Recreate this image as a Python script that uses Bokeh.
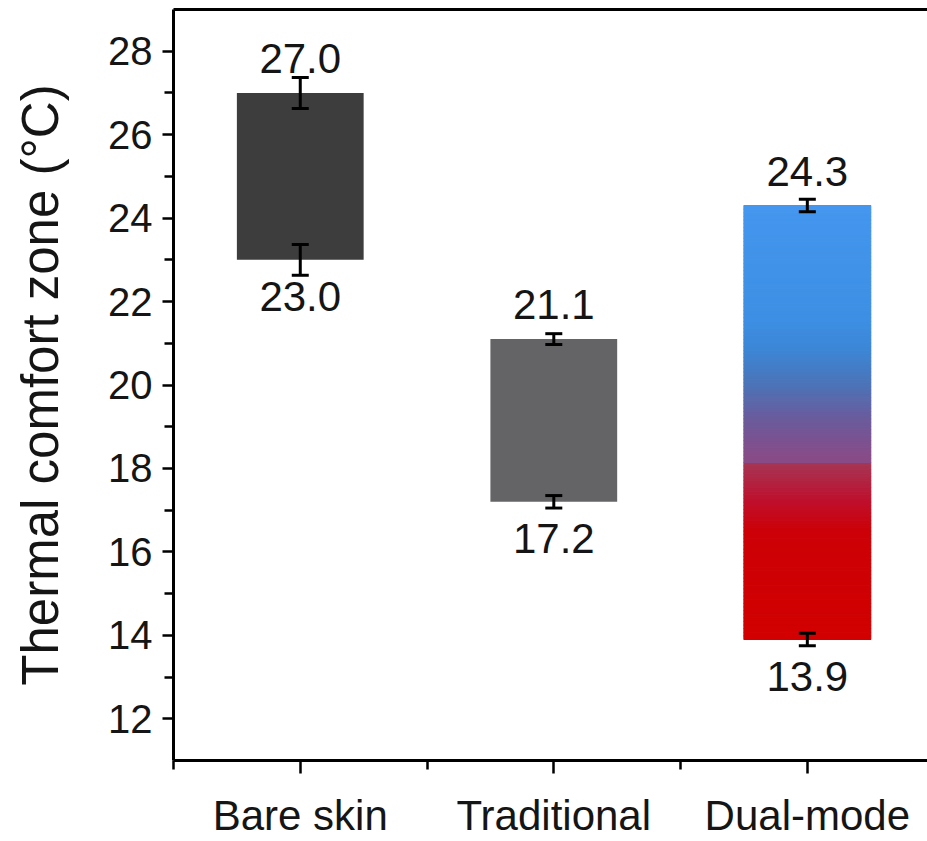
import numpy as np
from bokeh.plotting import figure
from bokeh.models import ColumnDataSource, Whisker, TeeHead, FixedTicker, LinearAxis, Range1d
from bokeh.embed import file_html
from bokeh.resources import INLINE
from bokeh.core.properties import value

# ---------------- data ----------------
categories = ["Bare skin", "Traditional", "Dual-mode"]
upper = [27.0, 21.1, 24.3]
lower = [23.0, 17.2, 13.9]
upper_err = [0.37, 0.13, 0.15]
lower_err = [0.37, 0.15, 0.15]
y_ticks = [12, 14, 16, 18, 20, 22, 24, 26, 28]
y_minor_ticks = [13, 15, 17, 19, 21, 23, 25, 27]

# ---------------- style ----------------
FONT = "Liberation Sans"
TEXT = "#151515"
BAR_W = 0.5
solid_colors = ["#3d3d3d", "#646466", None]
# gradient stops for the dual-mode bar (fraction from bottom, colour)
grad_stops = [
    (0.00, "#d20000"), (0.25, "#cc0006"), (0.32, "#bf0f2c"), (0.405, "#a63553"),
    (0.4051, "#8a4a86"), (0.433, "#844d8a"), (0.51, "#6a5b9c"), (0.59, "#4b74b8"),
    (0.67, "#3c86d6"), (0.74, "#3d8fe4"), (1.00, "#4496ee"),
]

def hex2rgb(h):
    h = h.lstrip("#")
    return np.array([int(h[i:i + 2], 16) for i in (0, 2, 4)], dtype=float)

def grad_color(f):
    for (f0, c0), (f1, c1) in zip(grad_stops[:-1], grad_stops[1:]):
        if f0 <= f <= f1:
            t = 0 if f1 == f0 else (f - f0) / (f1 - f0)
            c = hex2rgb(c0) * (1 - t) + hex2rgb(c1) * t
            return "#%02x%02x%02x" % tuple(int(round(v)) for v in c)
    return grad_stops[-1][1]

xpos = [i + 1 for i in range(len(categories))]

p = figure(width=927, height=841, x_range=Range1d(0.5, 3.474), y_range=Range1d(11, 29),
           output_backend="svg", toolbar_location=None,
           min_border_left=173, min_border_right=0, min_border_top=9, min_border_bottom=79)
p.outline_line_color = None
p.grid.visible = False
p.background_fill_color = "white"
p.border_fill_color = "white"

# solid bars
idx = [i for i in range(len(categories)) if solid_colors[i]]
p.vbar(x=[xpos[i] for i in idx], width=BAR_W,
       top=[upper[i] for i in idx], bottom=[lower[i] for i in idx],
       fill_color=[solid_colors[i] for i in idx], line_color=None)

# gradient bar
gi = 2
N = 120
edges = np.linspace(lower[gi], upper[gi], N + 1)
mids = (edges[:-1] + edges[1:]) / 2
fr = (mids - lower[gi]) / (upper[gi] - lower[gi])
cols = [grad_color(f) for f in fr]
p.quad(left=xpos[gi] - BAR_W / 2, right=xpos[gi] + BAR_W / 2, bottom=edges[:-1], top=edges[1:],
       fill_color=cols, line_color=cols, line_width=1.2)

# error bars
src = ColumnDataSource(dict(
    base=xpos + xpos,
    up=[u + e for u, e in zip(upper, upper_err)] + [l + e for l, e in zip(lower, lower_err)],
    lo=[u - e for u, e in zip(upper, upper_err)] + [l - e for l, e in zip(lower, lower_err)],
))
w = Whisker(source=src, base="base", upper="up", lower="lo", dimension="height",
            line_color="black", line_width=3, level="overlay",
            upper_head=TeeHead(size=17, line_width=3, line_color="black"),
            lower_head=TeeHead(size=17, line_width=3, line_color="black"))
p.add_layout(w)

# value labels
p.text(x=xpos, y=upper, text=[f"{v:.1f}" for v in upper], text_align="center",
       text_baseline="bottom", y_offset=-20, text_font=value(FONT),
       text_font_size="42px", text_color=TEXT)
p.text(x=xpos, y=lower, text=[f"{v:.1f}" for v in lower], text_align="center",
       text_baseline="top", y_offset=22, text_font=value(FONT),
       text_font_size="42px", text_color=TEXT)

# axes
xa = p.xaxis[0]
xa.ticker = FixedTicker(ticks=xpos, minor_ticks=[0.5, 1.5, 2.5, 3.5])
xa.major_label_overrides = {x: c for x, c in zip(xpos, categories)}
xa.major_label_text_font = FONT
xa.major_label_text_font_size = "42px"
xa.major_label_text_color = TEXT
xa.major_label_standoff = 18
xa.axis_line_width = 3
xa.major_tick_line_width = 2.5
xa.minor_tick_line_width = 2.5
xa.major_tick_out = 13
xa.major_tick_in = 0
xa.minor_tick_out = 9
xa.minor_tick_in = 0

ya = p.yaxis[0]
ya.ticker = FixedTicker(ticks=y_ticks, minor_ticks=y_minor_ticks)
ya.major_label_text_font = FONT
ya.major_label_text_font_size = "40px"
ya.major_label_text_color = TEXT
ya.major_label_standoff = 10
ya.axis_line_width = 3
ya.major_tick_line_width = 2.5
ya.minor_tick_line_width = 2.5
ya.major_tick_out = 11
ya.major_tick_in = 0
ya.minor_tick_out = 9
ya.minor_tick_in = 0
ya.axis_label = "Thermal comfort zone (°C)"
ya.axis_label_text_font = FONT
ya.axis_label_text_font_size = "51px"
ya.axis_label_text_font_style = "normal"
ya.axis_label_text_color = TEXT
ya.axis_label_standoff = 36

top_axis = LinearAxis(ticker=FixedTicker(ticks=[]), major_label_text_font_size="0px",
                      axis_line_width=3, major_tick_out=0, major_tick_in=0,
                      minor_tick_out=0, minor_tick_in=0, major_label_standoff=0)
p.add_layout(top_axis, "above")

open("out.html", "w").write(file_html(p, INLINE))
